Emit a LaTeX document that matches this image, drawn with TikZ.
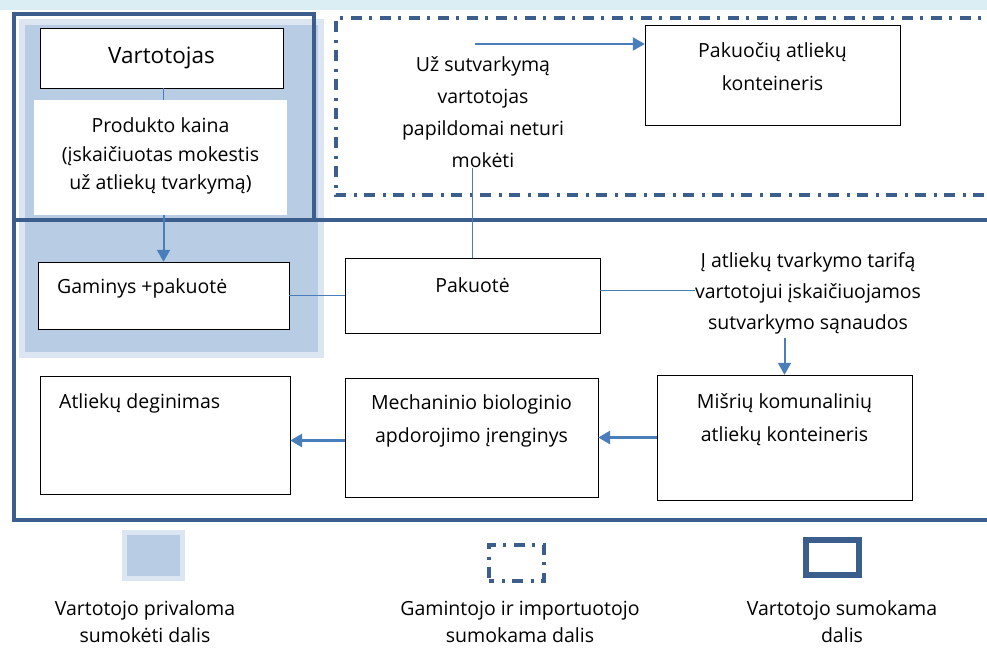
\documentclass[tikz,border=0pt]{standalone}
\usepackage{fontspec}
\setmainfont{Open Sans}
\usepackage{tikz}
\usetikzlibrary{arrows.meta,positioning}

\definecolor{frameblue}{RGB}{59,94,140}
\definecolor{arrowblue}{RGB}{74,126,187}
\definecolor{payfill}{RGB}{184,204,228}
\definecolor{payedge}{RGB}{220,230,242}
\definecolor{topband}{RGB}{218,238,243}

\tikzset{
  box/.style={draw,thin,rectangle,fill=white,inner sep=0pt},
  txt/.style={align=center,inner sep=0pt,font=\fontsize{19.5}{32}\selectfont},
  link/.style={arrowblue,line width=1.5pt},
  flow/.style={arrowblue,line width=2pt,-{Triangle[width=13pt,length=12pt]}},
  dashdot/.style={frameblue,line width=4pt,dash pattern=on 11pt off 8pt on 3pt off 7pt},
}

\begin{document}
\begin{tikzpicture}[x=1pt,y=-1pt]
\useasboundingbox (0,0) rectangle (987,649);
\fill[topband] (0,0) rectangle (987,10);

\draw[payedge,line width=6pt,fill=payfill] (22,22) rectangle (321,355);
\draw[frameblue,line width=4pt] (14,220) -- (14,14) -- (314,14) -- (314,220);
\draw[frameblue,line width=4pt] (1000,220) -- (14,220) -- (14,520) -- (1000,520);
\draw[dashdot] (1000,18) -- (335.5,18) -- (335.5,195) -- (1000,195);

\node[box,minimum width=243,minimum height=60,font=\fontsize{22.5}{26}\selectfont] (vart) at (161.5,58) {Vartotojas};
\node[fill=white,minimum width=253,minimum height=115,inner sep=0pt] (kaina) at (160.5,157.5) {};
\node[txt,font=\fontsize{19.5}{28.5}\selectfont] (kainat) at (160.5,156) {Produkto kaina\\(įskaičiuotas mokestis\\už atliekų tvarkymą)};

\node[box,minimum width=251,minimum height=67] (gam) at (163.5,295.5) {};
\node[txt,anchor=west] (gamt) at (57,288) {Gaminys +pakuotė};
\node[box,minimum width=255,minimum height=75] (pak) at (472.5,295.5) {};
\node[txt] (pakt) at (472.5,285) {Pakuotė};
\node[txt,font=\fontsize{19.5}{31}\selectfont] (tarif) at (808,293) {Į atliekų tvarkymo tarifą\\vartotojui įskaičiuojamos\\sutvarkymo sąnaudos};

\node[box,minimum width=255,minimum height=100] (paku) at (772.5,75) {};
\node[txt,font=\fontsize{19.5}{33}\selectfont] (pakut) at (772.5,66.5) {Pakuočių atliekų\\konteineris};
\node[txt] (uz) at (483,112) {Už sutvarkymą\\vartotojas\\papildomai neturi\\mokėti};
\coordinate (uzstart) at (475,44);

\node[box,minimum width=250,minimum height=118] (deg) at (165,435) {};
\node[txt,anchor=west] (degt) at (59,403) {Atliekų deginimas};
\node[box,minimum width=253,minimum height=119] (mech) at (471.5,437.5) {};
\node[txt,font=\fontsize{19.5}{33}\selectfont] (mecht) at (471.5,421) {Mechaninio biologinio\\apdorojimo įrenginys};
\node[box,minimum width=255,minimum height=125] (misr) at (784.5,437.5) {};
\node[txt,font=\fontsize{19.5}{33}\selectfont] (misrt) at (784.5,419.5) {Mišrių komunalinių\\atliekų konteineris};

\draw[link] (vart.south -| gam.north) -- (kaina.north -| gam.north);
\draw[flow] (kaina.south -| gam.north) -- (gam.north);
\draw[link] (gam) -- (pak);
\draw[link] ([yshift=5]pak.east) -- ([yshift=5]pak.east -| tarif.west);
\draw[link] (uz.south -| pak.north) -- (pak.north);
\draw[flow] (uzstart) -- (uzstart -| paku.west);
\draw[flow] ([yshift=-4]tarif.south -| misr.north) -- (misr.north);
\draw[flow,line width=3pt] (misr.west) -- (mech.east);
\draw[flow,line width=3pt] ([yshift=-3]mech.west) -- ([yshift=-3]mech.west -| deg.east);

\node[draw=payedge,fill=payfill,line width=5pt,minimum width=57.5,minimum height=46,inner sep=0pt] (legpay) at (153.5,555.5) {};
\node[txt,font=\fontsize{19.5}{27}\selectfont] (legpayt) at (145,622) {Vartotojo privaloma\\sumokėti dalis};
\node[dashdot,draw,minimum width=55,minimum height=36,inner sep=0pt,dash phase=6pt] (legprod) at (516.5,563) {};
\node[txt,font=\fontsize{19.5}{27}\selectfont] (legprodt) at (520,622) {Gamintojo ir importuotojo\\sumokama dalis};
\node[draw=frameblue,line width=6pt,minimum width=53,minimum height=35,inner sep=0pt] (legcons) at (832.5,557.5) {};
\node[txt,font=\fontsize{19.5}{27}\selectfont] (legconst) at (842,622) {Vartotojo sumokama\\dalis};
\end{tikzpicture}
\end{document}
